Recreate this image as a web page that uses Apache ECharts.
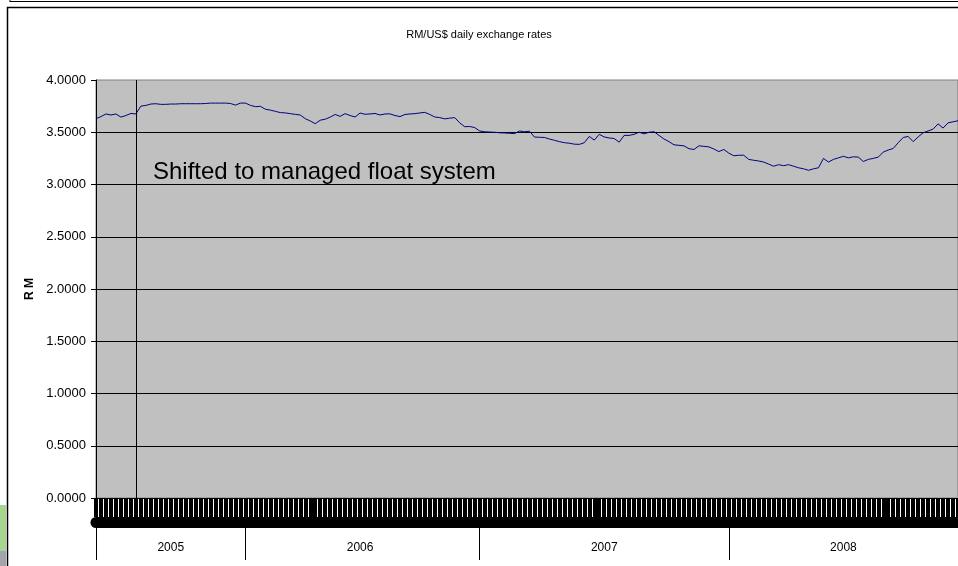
<!DOCTYPE html>
<html>
<head>
<meta charset="utf-8">
<script src="https://cdn.jsdelivr.net/npm/echarts@6/dist/echarts.min.js"></script>
<style>
  html, body { margin: 0; padding: 0; background: #fff; }
  #main { width: 958px; height: 566px; }
</style>
</head>
<body>
<div id="main"></div>
<script>
// year groups on the category axis
const years = ["2005", "2006", "2007", "2008"];

// RM per US$, sampled roughly weekly from the picture
const rate2005 = [3.630, 3.650, 3.675, 3.665, 3.675, 3.645, 3.660, 3.680, 3.675, 3.750,
  3.757, 3.770, 3.773, 3.767, 3.767, 3.770, 3.770, 3.773, 3.773, 3.773,
  3.773, 3.773, 3.775, 3.779, 3.779, 3.779, 3.779, 3.775, 3.760, 3.779];
const rate2006 = [3.779, 3.757, 3.745, 3.748, 3.720, 3.712, 3.700, 3.688, 3.685, 3.678,
  3.671, 3.665, 3.630, 3.608, 3.582, 3.615, 3.625, 3.645, 3.670, 3.652,
  3.678, 3.660, 3.646, 3.684, 3.672, 3.675, 3.680, 3.665, 3.675, 3.676,
  3.660, 3.650, 3.670, 3.675, 3.678, 3.685, 3.690, 3.670, 3.646, 3.640,
  3.628, 3.635, 3.640, 3.590, 3.553, 3.555, 3.545];
const rate2007 = [3.512, 3.505, 3.502, 3.500, 3.495, 3.493, 3.490, 3.487, 3.512, 3.505,
  3.510, 3.454, 3.452, 3.450, 3.435, 3.423, 3.410, 3.400, 3.395, 3.386,
  3.384, 3.400, 3.460, 3.425, 3.480, 3.455, 3.445, 3.440, 3.405, 3.470,
  3.470, 3.480, 3.500, 3.485, 3.500, 3.505, 3.470, 3.435, 3.410, 3.380,
  3.375, 3.370, 3.343, 3.335, 3.370, 3.365, 3.360, 3.340, 3.315, 3.335];
const rate2008 = [3.300, 3.275, 3.280, 3.280, 3.240, 3.232, 3.225, 3.215, 3.195, 3.175,
  3.190, 3.180, 3.190, 3.175, 3.160, 3.150, 3.136, 3.150, 3.160, 3.250,
  3.215, 3.240, 3.255, 3.270, 3.255, 3.265, 3.262, 3.220, 3.240, 3.250,
  3.262, 3.310, 3.330, 3.345, 3.400, 3.450, 3.460, 3.410, 3.455, 3.495,
  3.512, 3.530, 3.580, 3.540, 3.590, 3.600, 3.610];

// y axis ticks
const yMin = 0;
const yMax = 4;
const yStep = 0.5;

// sample where the managed float started (21 Jul 2005)
const floatSample = 8;
const floatText = "Shifted to managed float system";

// build categories / values
const yearRates = [rate2005, rate2006, rate2007, rate2008];
const categories = [];
const rates = [];
const yearStarts = [];
const yearMids = [];
yearRates.forEach((arr, k) => {
  yearStarts.push(categories.length);
  yearMids.push(categories.length + Math.floor(arr.length / 2));
  arr.forEach((v, j) => {
    categories.push(years[k] + "-" + (j + 1));
    rates.push(v);
  });
});

let myChart = echarts.init(document.getElementById("main"));

let option = {
  animation: false,
  backgroundColor: "#fff",
  textStyle: { fontFamily: "Liberation Sans, Arial, sans-serif" },
  title: {
    text: "RM/US$ daily exchange rates",
    left: "center",
    top: 24,
    textStyle: { fontSize: 11, fontWeight: "normal", color: "#000" }
  },
  graphic: [
    // outer frames
    { type: "line", shape: { x1: 10, y1: 1.5, x2: 958, y2: 1.5 }, style: { stroke: "#000", lineWidth: 1.2 } },
    { type: "line", shape: { x1: 10, y1: 0, x2: 10, y2: 2 }, style: { stroke: "#000", lineWidth: 1 } },
    { type: "rect", shape: { x: 7.5, y: 7.5, width: 1000, height: 600 }, style: { fill: "none", stroke: "#000", lineWidth: 1.5 } },
    { type: "rect", shape: { x: 0, y: 505, width: 6, height: 46 }, style: { fill: "#a6d68e" } },
    { type: "rect", shape: { x: 0, y: 551, width: 6, height: 15 }, style: { fill: "#a4a4ac" } },
    {
      type: "text",
      x: 153,
      y: 172,
      style: {
        text: floatText,
        font: "24px 'Liberation Sans', Arial, sans-serif",
        fill: "#000",
        align: "left",
        verticalAlign: "middle"
      }
    }
  ],
  grid: {
    left: 96,
    right: -7,
    top: 80,
    bottom: 68,
    show: true,
    backgroundColor: "#c0c0c0",
    borderColor: "#808080",
    borderWidth: 1
  },
  xAxis: [
    {
      // daily ticks
      type: "category",
      data: categories,
      boundaryGap: false,
      axisLine: { lineStyle: { color: "#000", width: 1 } },
      axisTick: { show: true, interval: 0, length: 19, lineStyle: { color: "#000", width: 4 } },
      axisLabel: { show: false },
      splitLine: { show: false }
    },
    {
      // year groups
      type: "category",
      data: categories,
      boundaryGap: false,
      position: "bottom",
      axisLine: { show: false },
      axisTick: {
        show: true,
        interval: (i) => yearStarts.includes(i),
        length: 62,
        lineStyle: { color: "#000", width: 1 }
      },
      axisLabel: {
        show: true,
        interval: (i) => yearMids.includes(i),
        formatter: (v) => v.split("-")[0],
        margin: 44,
        fontSize: 12,
        color: "#000"
      }
    },
    {
      // packed date labels band
      type: "category",
      data: categories,
      boundaryGap: false,
      position: "bottom",
      offset: 24,
      axisLine: { lineStyle: { color: "#000", width: 11 } },
      axisTick: { show: false },
      axisLabel: { show: false }
    }
  ],
  yAxis: {
    type: "value",
    min: yMin,
    max: yMax,
    interval: yStep,
    name: "R M",
    nameLocation: "middle",
    nameGap: 59,
    nameTextStyle: { fontSize: 12, fontWeight: "bold", color: "#000" },
    axisLine: { show: true, lineStyle: { color: "#000" } },
    axisTick: { show: true, length: 5, lineStyle: { color: "#000" } },
    axisLabel: {
      formatter: (v) => v.toFixed(4),
      fontSize: 13,
      color: "#000",
      margin: 10
    },
    splitLine: {
      show: true,
      showMinLine: false,
      showMaxLine: false,
      lineStyle: { color: "#000", width: 1 }
    }
  },
  series: [
    {
      name: "RM/US$",
      type: "line",
      xAxisIndex: 0,
      data: rates,
      symbol: "none",
      lineStyle: { color: "#000080", width: 1 },
      markLine: {
        silent: true,
        symbol: ["none", "none"],
        label: { show: false },
        lineStyle: { color: "#000", width: 1, type: "solid" },
        data: [{ xAxis: floatSample }]
      }
    }
  ]
};

myChart.setOption(option);
</script>
</body>
</html>
